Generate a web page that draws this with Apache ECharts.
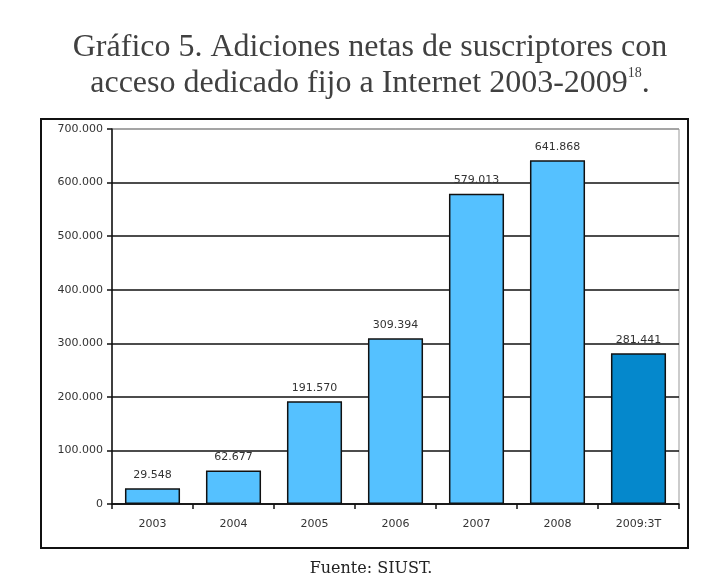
<!DOCTYPE html>
<html>
<head>
<meta charset="utf-8">
<script src="https://cdn.jsdelivr.net/npm/echarts@6/dist/echarts.min.js"></script>
<style>
  html, body { margin: 0; padding: 0; background: #fff; }
  #wrap { position: relative; width: 723px; height: 587px; }
  #box { position: absolute; left: 40px; top: 118px; width: 645px; height: 427px; border: 2px solid #111; }
  #chart { position: absolute; left: 0; top: 0; width: 723px; height: 587px; }
</style>
</head>
<body>
<div id="wrap">
  <div id="box"></div>
  <div id="chart"></div>
</div>
<script>
  // datos del gráfico
  var years = ['2003', '2004', '2005', '2006', '2007', '2008', '2009:3T']
  var adiciones = [29548, 62677, 191570, 309394, 579013, 641868, 281441]
  var yTicks = [0, 100000, 200000, 300000, 400000, 500000, 600000, 700000]

  function miles(v) {
    return String(v).replace(/\B(?=(\d{3})+(?!\d))/g, '.')
  }

  var chart = echarts.init(document.getElementById('chart'))

  var seriesData = adiciones.map(function (v, i) {
    return {
      value: v,
      itemStyle: { color: i === adiciones.length - 1 ? '#0588CC' : '#55C1FF' }
    }
  })

  // la línea de 700.000 es gris, el resto negras
  var gridColors = yTicks.map(function (t, i) {
    return i === yTicks.length - 1 ? '#999' : '#111'
  })

  var option = {
    animation: false,
    title: [{
      text: 'Gráfico 5. Adiciones netas de suscriptores con\nacceso dedicado fijo a Internet 2003-2009{sup|18}.',
      left: 365,
      top: 25,
      textAlign: 'center',
      textStyle: {
        fontFamily: 'Liberation Serif',
        fontWeight: 'normal',
        fontSize: 32,
        color: '#404040',
        lineHeight: 36,
        align: 'center',
        rich: {
          sup: { fontSize: 14, fontFamily: 'Liberation Serif', color: '#404040', verticalAlign: 'top', padding: [0, 0, 16, 0] }
        }
      }
    }, {
      text: 'Fuente: SIUST.',
      left: 366,
      top: 556,
      textAlign: 'center',
      textStyle: {
        fontFamily: 'DejaVu Serif',
        fontWeight: 'normal',
        fontSize: 16,
        color: '#222'
      }
    }],
    grid: {
      left: 112,
      right: 44,
      top: 129,
      bottom: 83,
      show: true,
      borderColor: '#999',
      borderWidth: 1
    },
    xAxis: {
      type: 'category',
      data: years,
      axisLine: { lineStyle: { color: '#111', width: 1.5 } },
      axisTick: { show: true, length: 5, lineStyle: { color: '#111', width: 1.5 } },
      axisLabel: { color: '#333', fontSize: 11, fontFamily: 'DejaVu Sans', margin: 15 }
    },
    yAxis: {
      type: 'value',
      min: 0,
      max: 700000,
      interval: 100000,
      axisLine: { show: true, lineStyle: { color: '#111', width: 1.5 } },
      axisTick: { show: true, length: 5, lineStyle: { color: '#111', width: 1.5 } },
      splitLine: { show: true, lineStyle: { color: gridColors, width: 1.5 } },
      axisLabel: {
        color: '#333',
        fontSize: 11,
        fontFamily: 'DejaVu Sans',
        margin: 9,
        formatter: function (v) { return miles(v) }
      }
    },
    series: [{
      type: 'bar',
      data: seriesData,
      barCategoryGap: '32%',
      itemStyle: { borderColor: '#111', borderWidth: 1.5 },
      label: {
        show: true,
        position: 'top',
        distance: 8,
        color: '#333',
        fontSize: 11,
        fontFamily: 'DejaVu Sans',
        formatter: function (p) { return miles(p.value) }
      }
    }]
  }

  chart.setOption(option)
</script>
</body>
</html>
